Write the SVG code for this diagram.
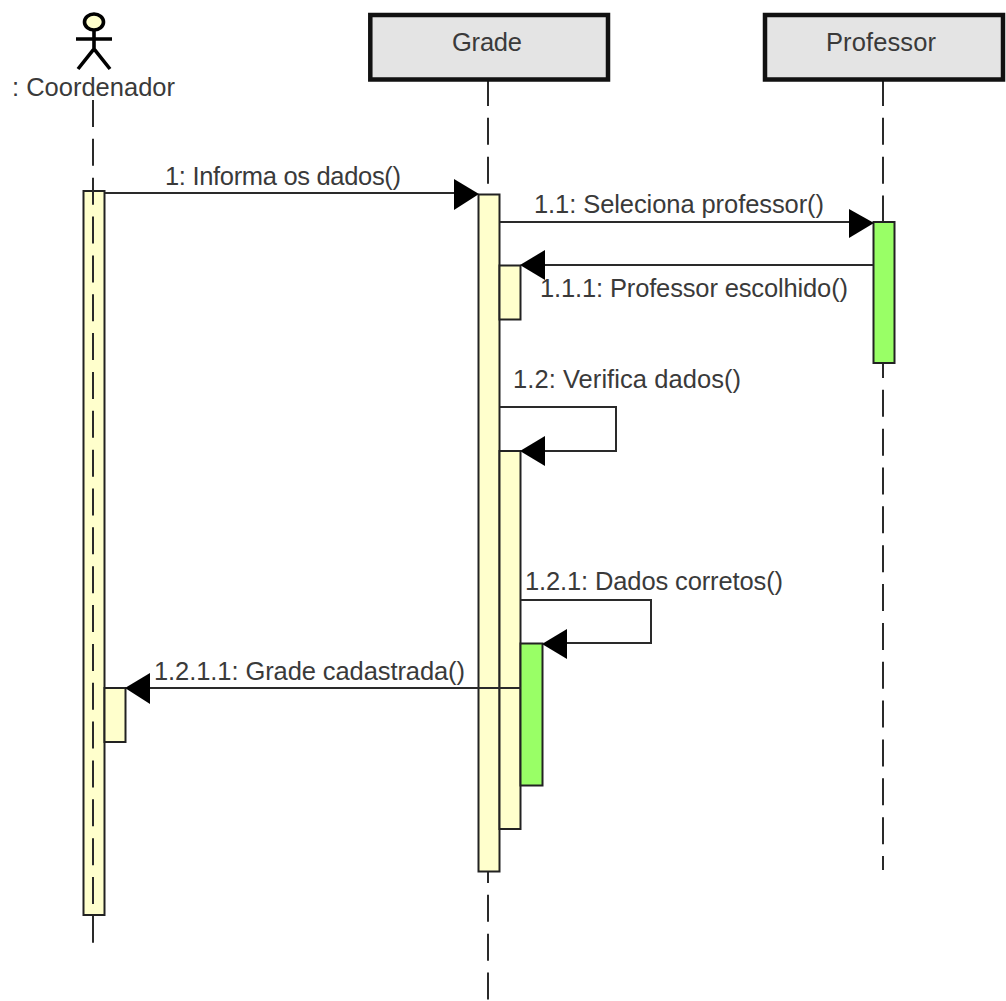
<svg xmlns="http://www.w3.org/2000/svg" width="1006" height="1001" viewBox="0 0 1006 1001">
<style>
text{font-family:"Liberation Sans",Arial,sans-serif;font-size:25.500px;fill:#3a3a3a}
.life{stroke:#2a2a2a;stroke-width:2;stroke-dasharray:27 11.850;fill:none}
.box{fill:#e4e4e4;stroke:#111;stroke-width:4.500}
.y{fill:#ffffcc;stroke:#222;stroke-width:2}
.g{fill:#99ff66;stroke:#222;stroke-width:2}
.m{stroke:#2a2a2a;stroke-width:2;fill:none}
.a{fill:#000;stroke:none}
</style>
<g id="lifelines">
<line class="life" x1="488" y1="79" x2="488" y2="1001"/>
<line class="life" x1="883" y1="79" x2="883" y2="870"/>
</g>
<g id="actor-coordenador">
<ellipse cx="94" cy="22" rx="9.500" ry="8" fill="#ffffcc" stroke="#000" stroke-width="3.600"/>
<path d="M94 30V49M76 39H112M78 69L94 49L110 69" fill="none" stroke="#000" stroke-width="3.600"/>
<text x="12" y="96" textLength="163">: Coordenador</text>
</g>
<g id="node-grade">
<rect class="box" x="370.300" y="15" width="237.700" height="64.500"/>
<text x="452" y="51" textLength="70">Grade</text>
</g>
<g id="node-professor">
<rect class="box" x="765" y="15" width="238" height="64.500"/>
<text x="826" y="51" textLength="110">Professor</text>
</g>
<g id="activations">
<rect class="y" x="83.500" y="191" width="21" height="724"/>
<rect class="y" x="104.500" y="688" width="21" height="54"/>
<rect class="y" x="478.500" y="194.500" width="21" height="677"/>
<rect class="y" x="499.500" y="265.500" width="21" height="54"/>
<rect class="y" x="499.500" y="451" width="21" height="378"/>
<rect class="g" x="520.500" y="643.500" width="22" height="142"/>
<rect class="g" x="873.500" y="222" width="21" height="141"/>
</g>
<g id="lifeline-coordenador">
<line class="life" x1="93" y1="100" x2="93" y2="943"/>
</g>
<g id="connectors">
<path class="m" d="M105 193H456"/>
<path class="a" d="M454 179L479 194L454 210Z"/>
<path class="m" d="M500 222H850"/>
<path class="a" d="M849 209L874 223L849 238Z"/>
<path class="m" d="M873 265H544"/>
<path class="a" d="M545 250L520 265L545 280Z"/>
<path class="m" d="M500 407H616V451H544"/>
<path class="a" d="M545 436L520 451L545 466Z"/>
<path class="m" d="M521 600H651V643H566"/>
<path class="a" d="M567 629L542 644L567 659Z"/>
<path class="m" d="M521 688H150"/>
<path class="a" d="M150 673L125 688L150 704Z"/>
</g>
<g id="labels">
<text x="165" y="185" textLength="236">1: Informa os dados()</text>
<text x="534" y="213" textLength="290">1.1: Seleciona professor()</text>
<text x="540" y="297" textLength="308">1.1.1: Professor escolhido()</text>
<text x="513" y="388" textLength="228">1.2: Verifica dados()</text>
<text x="525" y="590" textLength="258">1.2.1: Dados corretos()</text>
<text x="154" y="680" textLength="311">1.2.1.1: Grade cadastrada()</text>
</g>
</svg>
